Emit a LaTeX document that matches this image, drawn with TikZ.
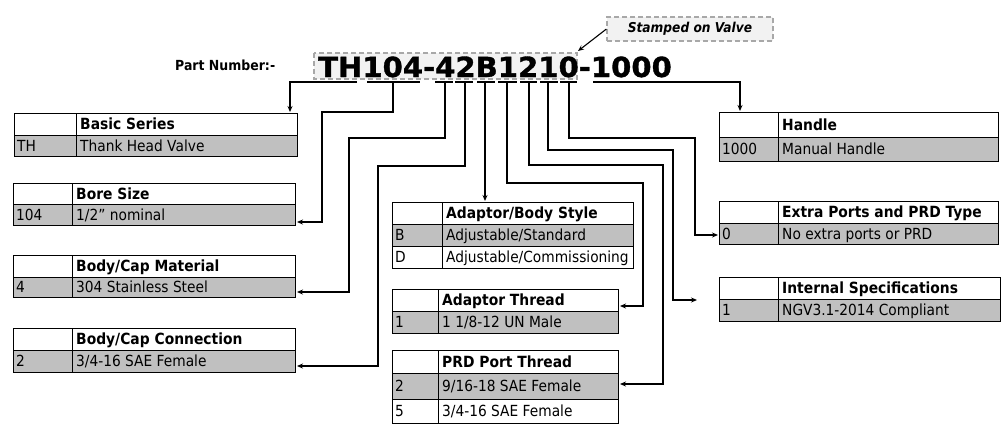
\documentclass[tikz,border=0pt]{standalone}
\usepackage{fontspec}
\setmainfont{DejaVu Sans}[FakeStretch=0.9]
\newfontfamily\pnfont{DejaVu Sans}[FakeStretch=1.05,BoldFeatures={FakeBold=1.2}]
\usetikzlibrary{arrows.meta}
\definecolor{rowgray}{RGB}{192,192,192}
\definecolor{boxfill}{RGB}{242,242,242}
\definecolor{dashgray}{RGB}{168,168,168}
\newcommand\tabhead[7]{%
  \draw[cell] (#2,#5) rectangle (#3,#6);
  \draw[cell] (#3,#5) rectangle (#4,#6);
  \node[head] (#1-h) at (#3+4,{(#5+#6)/2+5.5}) {#7};
}
\newcommand\tabrow[9]{%
  \draw[cell,fill=#7] (#2,#5) rectangle (#3,#6);
  \draw[cell,fill=#7] (#3,#5) rectangle (#4,#6);
  \node[txt] (#1-c) at (#2+3,{(#5+#6)/2+5.5}) {#8};
  \node[txt] (#1-d) at (#3+4,{(#5+#6)/2+5.5}) {#9};
}
\begin{document}
\begin{tikzpicture}[x=1pt,y=-1pt,
  cell/.style={draw=black,line width=0.9pt},
  txt/.style={anchor=base west,inner sep=0pt,font=\fontsize{15.3}{18}\selectfont},
  head/.style={anchor=base west,inner sep=0pt,font=\fontsize{15.4}{18}\selectfont\bfseries},
  wire/.style={line width=1.7pt,-{Stealth[length=6pt,width=5pt]}},
  uline/.style={line width=1.7pt},
  dashbox/.style={draw=dashgray,fill=boxfill,line width=1.2pt,dash pattern=on 5pt off 3pt}]
\useasboundingbox (0,0) rectangle (1003,445);

% part number
\node[anchor=base west,inner sep=0pt,font=\fontsize{13.9}{16}\selectfont\bfseries] (plabel) at (175,70) {Part Number:-};
\draw[dashbox] (314,53) rectangle (577,79);
\node[anchor=base west,inner sep=0pt,font={\pnfont\bfseries\fontsize{27.7}{34}\selectfont}] (pn) at (318,77) {TH104-42B1210-1000};
\node[dashbox,minimum width=166pt,minimum height=24pt,inner sep=0pt,font=\fontsize{13.6}{16}\selectfont\bfseries\itshape] (stamp) at (690,29) {Stamped on Valve};
\coordinate (stampto) at (578,51);
\draw[line width=1.1pt,-{Stealth[length=6pt,width=5pt]}] (stamp.west) -- (stampto);

% underline segments
\draw[uline] (367,82) -- (420,82);
\draw[uline] (435,82) -- (453,82);
\draw[uline] (455,82) -- (473,82);
\draw[uline] (477,82) -- (495,82);
\draw[uline] (498,82) -- (517,82);
\draw[uline] (520,82) -- (537,82);
\draw[uline] (540,82) -- (558,82);
\draw[uline] (560,82) -- (577,82);

% wire start points
\coordinate (u1) at (357,82);
\coordinate (u2) at (393,82);
\coordinate (u3) at (445,82);
\coordinate (u4) at (465,82);
\coordinate (u5) at (485,82);
\coordinate (u6) at (507,82);
\coordinate (u7) at (529,82);
\coordinate (u8) at (548,82);
\coordinate (u9) at (569,82);
\coordinate (u10) at (593,82);
% wire end points
\coordinate (e1) at (290,112);
\coordinate (e2) at (297,222);
\coordinate (e3) at (297,292);
\coordinate (e4) at (297,366);
\coordinate (e5) at (485,201);
\coordinate (e6) at (620,306);
\coordinate (e7) at (620,384);
\coordinate (e8) at (697,300);
\coordinate (e9) at (718,235);
\coordinate (e10) at (740,111);

\draw[wire] (u1) -| (e1);
\draw[wire] (u2) |- (322,112) |- (e2);
\draw[wire] (u3) |- (349,138) |- (e3);
\draw[wire] (u4) |- (378,166) |- (e4);
\draw[wire] (u5) -- (e5);
\draw[wire] (u6) |- (643,183) |- (e6);
\draw[wire] (u7) |- (663,165) |- (e7);
\draw[wire] (u8) |- (673,150) |- (e8);
\draw[wire] (u9) |- (695,138) |- (e9);
\draw[wire] (u10) -| (e10);

% left tables
\tabhead{bs}{14}{76}{297}{113}{135}{Basic Series}
\tabrow{bs1}{14}{76}{297}{135}{156}{rowgray}{TH}{Thank Head Valve}
\tabhead{bo}{13}{72}{295}{183}{204}{Bore Size}
\tabrow{bo1}{13}{72}{295}{204}{225}{rowgray}{104}{1/2” nominal}
\tabhead{cm}{13}{72}{295}{255}{277}{Body/Cap Material}
\tabrow{cm1}{13}{72}{295}{277}{297}{rowgray}{4}{304 Stainless Steel}
\tabhead{cc}{13}{72}{295}{328}{350}{Body/Cap Connection}
\tabrow{cc1}{13}{72}{295}{350}{372}{rowgray}{2}{3/4-16 SAE Female}

% middle tables
\tabhead{ab}{392}{442}{633}{202}{224}{Adaptor/Body Style}
\tabrow{ab1}{392}{442}{633}{224}{246}{rowgray}{B}{Adjustable/Standard}
\tabrow{ab2}{392}{442}{633}{246}{268}{white}{D}{Adjustable/Commissioning}
\tabhead{at}{392}{438}{618}{289}{311}{Adaptor Thread}
\tabrow{at1}{392}{438}{618}{311}{333}{rowgray}{1}{1 1/8-12 UN Male}
\tabhead{pr}{392}{438}{618}{350}{373}{PRD Port Thread}
\tabrow{pr1}{392}{438}{618}{373}{399}{rowgray}{2}{9/16-18 SAE Female}
\tabrow{pr2}{392}{438}{618}{399}{423}{white}{5}{3/4-16 SAE Female}

% right tables
\tabhead{hd}{719}{778}{998}{112}{137}{Handle}
\tabrow{hd1}{719}{778}{998}{137}{161}{rowgray}{1000}{Manual Handle}
\tabhead{ep}{719}{778}{998}{201}{223}{Extra Ports and PRD Type}
\tabrow{ep1}{719}{778}{998}{223}{244}{rowgray}{0}{No extra ports or PRD}
\tabhead{is}{719}{778}{1000}{277}{299}{Internal Specifications}
\tabrow{is1}{719}{778}{1000}{299}{321}{rowgray}{1}{NGV3.1-2014 Compliant}
\end{tikzpicture}
\end{document}
